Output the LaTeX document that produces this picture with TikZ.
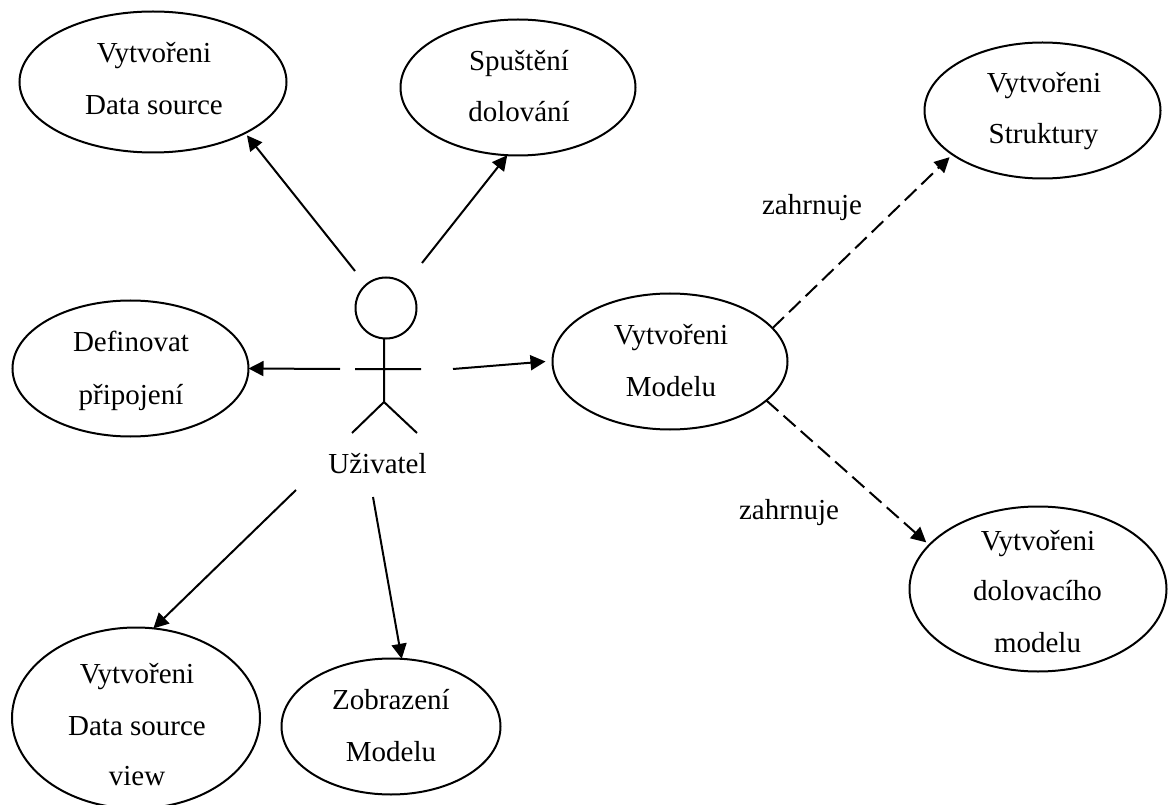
\documentclass[tikz,border=0pt]{standalone}
\usepackage{fontspec}
\setmainfont{Liberation Serif}
\usetikzlibrary{arrows.meta,shapes.geometric}
\tikzset{
 uc/.style={draw,ellipse,line width=2pt,inner sep=0pt,outer sep=0pt},
 lbl/.style={inner sep=0pt,anchor=base,font=\fontsize{29}{33}\selectfont},
 con/.style={line width=2pt,-{Triangle[length=15pt,width=15pt]}},
 dcon/.style={con,dash pattern=on 16pt off 7pt},
 fig/.style={line width=2pt}
}
\begin{document}
\begin{tikzpicture}[x=1pt,y=-1pt]
\useasboundingbox (0,0) rectangle (1168,805);
\node[uc,minimum width=267pt,minimum height=141pt] (ds) at (153,82) {};
\node[lbl] (ds1) at (154,63) {Vytvořeni};
\node[lbl] (ds2) at (154,115) {Data source};
\node[uc,minimum width=235pt,minimum height=136pt] (sp) at (518,87.5) {};
\node[lbl] (sp1) at (519,71) {Spuštění};
\node[lbl] (sp2) at (519,122) {dolování};
\node[uc,minimum width=236pt,minimum height=136pt] (st) at (1042.5,110.5) {};
\node[lbl] (st1) at (1044,93) {Vytvořeni};
\node[lbl] (st2) at (1043.5,144) {Struktury};
\node[uc,minimum width=236pt,minimum height=136pt] (dp) at (130.5,368.5) {};
\node[lbl] (dp1) at (131,352) {Definovat};
\node[lbl] (dp2) at (131,404) {připojení};
\node[uc,minimum width=235pt,minimum height=136pt] (mo) at (670,361.5) {};
\node[lbl] (mo1) at (671,344) {Vytvořeni};
\node[lbl] (mo2) at (671,396) {Modelu};
\node[uc,minimum width=248pt,minimum height=181pt] (dm) at (136,718) {};
\node[lbl] (dm1) at (137,683) {Vytvořeni};
\node[lbl] (dm2) at (137,735) {Data source};
\node[lbl] (dm3) at (137,785) {view};
\node[uc,minimum width=219pt,minimum height=136pt] (zm) at (391,726.5) {};
\node[lbl] (zm1) at (391,709) {Zobrazení};
\node[lbl] (zm2) at (391,761) {Modelu};
\node[uc,minimum width=257pt,minimum height=165pt] (dd) at (1038,589) {};
\node[lbl] (dd1) at (1038,550) {Vytvořeni};
\node[lbl] (dd2) at (1037.5,600) {dolovacího};
\node[lbl] (dd3) at (1037.5,652) {modelu};
\node[draw,circle,fig,minimum size=61pt,inner sep=0pt,outer sep=0pt] (head) at (386,308) {};
\coordinate (hip) at (384,402);
\coordinate (armL) at (355,369);
\coordinate (armR) at (421,369);
\coordinate (legL) at (352,433);
\coordinate (legR) at (417,433);
\draw[fig] (head.south -| hip) -- (hip) (armL) -- (armR) (legL) -- (hip) -- (legR);
\node[lbl] (u) at (377.5,473) {Uživatel};
\coordinate (a1) at (355,271);
\coordinate (a2) at (422,263);
\coordinate (a3) at (340,369);
\coordinate (a4) at (453,369);
\coordinate (a5) at (296,490);
\coordinate (a6) at (373,497);
\draw[con,shorten >=3pt] (a1) -- (ds.-29);
\draw[con] (a2) -- (sp.-99);
\draw[con] (a3) -- (dp.0);
\draw[con] (a4) -- ([xshift=-7pt]mo.180);
\draw[con] (a5) -- (dm.79);
\draw[con] (a6) -- (zm.81);
\draw[dcon,shorten >=4pt] (mo.18) -- (st.-154);
\draw[dcon,shorten >=4pt] (mo.-22) -- (dd.158);
\node[lbl] (z1) at (812,215) {zahrnuje};
\node[lbl] (z2) at (789,519) {zahrnuje};
\end{tikzpicture}
\end{document}
